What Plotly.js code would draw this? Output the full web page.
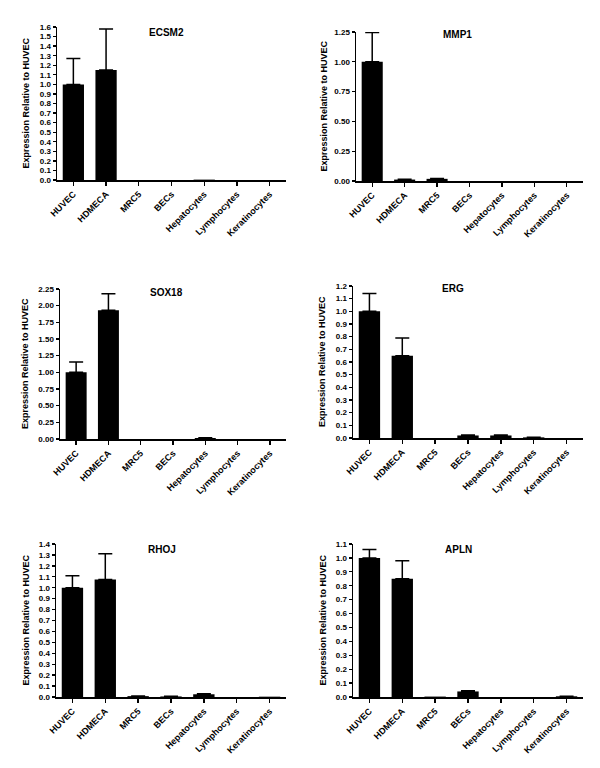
<!DOCTYPE html>
<html>
<head>
<meta charset="utf-8">
<script src="https://cdn.plot.ly/plotly-3.0.1.min.js"></script>
<style>html,body{margin:0;padding:0;background:#fff}#chart{width:600px;height:768px}</style>
</head>
<body>
<div id="chart"></div>
<script>
const categories = ["HUVEC","HDMECA","MRC5","BECs","Hepatocytes","Lymphocytes","Keratinocytes"];

const ecsm2Values = [1.0, 1.15, 0.0, 0.0, 0.004, 0.0, 0.0];
const ecsm2Errors = [0.27, 0.43, null, null, null, null, null];

const mmp1Values = [1.0, 0.012, 0.018, 0.0, 0.0, 0.0, 0.0];
const mmp1Errors = [0.245, 0.002, 0.003, null, null, null, null];

const sox18Values = [1.0, 1.93, 0.0, 0.0, 0.015, 0.0, 0.0];
const sox18Errors = [0.155, 0.25, null, null, 0.003, null, null];

const ergValues = [1.0, 0.65, 0.0, 0.02, 0.02, 0.005, 0.0];
const ergErrors = [0.14, 0.14, null, 0.004, 0.003, 0.001, null];

const rhojValues = [1.0, 1.075, 0.008, 0.005, 0.025, 0.0, 0.003];
const rhojErrors = [0.11, 0.235, 0.001, 0.001, 0.004, null, null];

const aplnValues = [1.0, 0.85, 0.003, 0.04, 0.0, 0.0, 0.005];
const aplnErrors = [0.06, 0.13, null, 0.005, null, null, 0.001];

const panelTitles = ["ECSM2","MMP1","SOX18","ERG","RHOJ","APLN"];
const yTitle = "Expression Relative to HUVEC";
const yRanges = [[0,1.6],[0,1.25],[0,2.25],[0,1.2],[0,1.4],[0,1.1]];
const yDticks = [0.1,0.25,0.25,0.1,0.1,0.1];
const yFormats = [".1f",".2f",".2f",".1f",".1f",".1f"];

const seriesValues = [ecsm2Values, mmp1Values, sox18Values, ergValues, rhojValues, aplnValues];
const seriesErrors = [ecsm2Errors, mmp1Errors, sox18Errors, ergErrors, rhojErrors, aplnErrors];

// layout geometry (pixels)
const W = 600, H = 768;
const px = [[57,286],[356,583],[60,286],[353,583],[56,286],[353,583]];
const py = [[27,180],[32,181],[289,439],[286,438],[544,697],[544,697]];
const titleX = [0.48,0.445,0.47,0.435,0.46,0.46];
const titleYpx = [32,35,293,289,549,549];
const yTitleXpx = [25,323,25,322,25,322];

const FONT = "Liberation Sans, Arial, sans-serif";
const traces = [];
const layout = {
  width: W, height: H,
  margin: {l:0,r:0,t:0,b:0},
  paper_bgcolor: "#fff", plot_bgcolor: "#fff",
  showlegend: false,
  font: {family: FONT, color: "#000"},
  annotations: [],
  bargap: 0.35
};

for (let i = 0; i < 6; i++) {
  const n = i === 0 ? "" : String(i+1);
  const errUp = seriesErrors[i].map(e => (e === null ? NaN : e));
  const errDown = seriesErrors[i].map(e => (e === null ? NaN : 0));
  traces.push({
    type: "bar",
    x: categories,
    y: seriesValues[i],
    xaxis: "x" + n, yaxis: "y" + n,
    marker: {color: "#000", line: {width: 0}},
    width: 0.65,
    error_y: {type: "data", symmetric: false, array: errUp, arrayminus: errDown,
              color: "#000", thickness: 1.5, width: 7},
    hoverinfo: "x+y"
  });
  const xd = [px[i][0]/W, px[i][1]/W];
  const yd = [1 - py[i][1]/H, 1 - py[i][0]/H];
  layout["xaxis" + n] = {
    domain: xd, anchor: "y" + n,
    type: "category", range: [-0.5, 6.5],
    showgrid: false, zeroline: false,
    showline: true, linecolor: "#000", linewidth: 1.5,
    ticks: "outside", ticklen: 4, tickwidth: 1.3, tickcolor: "#000",
    tickangle: -45,
    tickfont: {family: FONT, size: 9, weight: "bold", color: "#000"},
    fixedrange: true
  };
  layout["yaxis" + n] = {
    domain: yd, anchor: "x" + n,
    range: yRanges[i], dtick: yDticks[i], tick0: 0, tickformat: yFormats[i],
    showgrid: false, zeroline: false,
    showline: true, linecolor: "#000", linewidth: 1.5,
    ticks: "outside", ticklen: 3, tickwidth: 1.3, tickcolor: "#000",
    ticklabelstandoff: 0,
    tickfont: {family: FONT, size: 8, weight: "bold", color: "#000"},
    fixedrange: true
  };
  layout.annotations.push({
    text: panelTitles[i], xref: "x" + n + " domain", yref: "y" + n + " domain",
    x: titleX[i], y: 1 - (titleYpx[i] - py[i][0]) / (py[i][1] - py[i][0]),
    xanchor: "center", yanchor: "middle", showarrow: false,
    font: {family: FONT, size: 10, weight: "bold", color: "#000"}
  });
  layout.annotations.push({
    text: yTitle, xref: "paper", yref: "paper",
    x: yTitleXpx[i] / W, y: (yd[0] + yd[1]) / 2,
    xanchor: "center", yanchor: "middle", textangle: -90, showarrow: false,
    font: {family: FONT, size: 9, weight: "bold", color: "#000"}
  });
}

Plotly.newPlot("chart", traces, layout, {displayModeBar: false, staticPlot: true});
</script>
</body>
</html>
